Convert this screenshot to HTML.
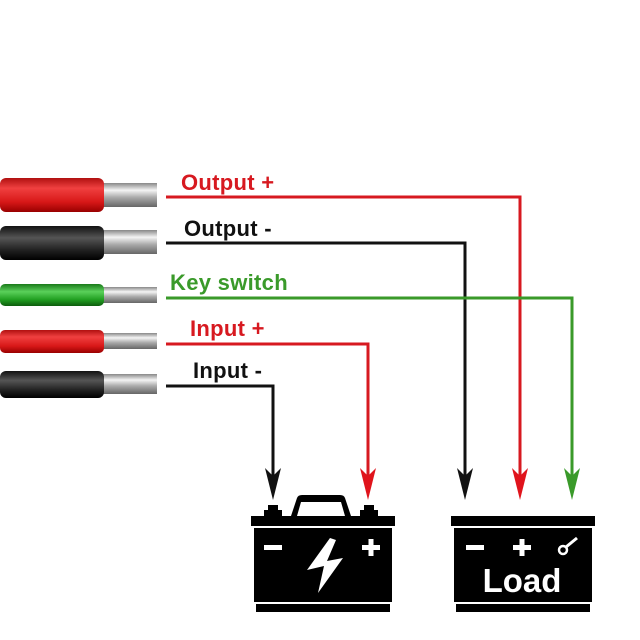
<!DOCTYPE html>
<html><head><style>
html,body{margin:0;padding:0;background:#fff;width:640px;height:640px;overflow:hidden}
</style></head><body>
<svg width="640" height="640" viewBox="0 0 640 640" xmlns="http://www.w3.org/2000/svg">
<defs>
<linearGradient id="red" x1="0" y1="0" x2="0" y2="1"><stop offset="0" stop-color="#b01010"/><stop offset="0.3" stop-color="#f04040"/><stop offset="0.7" stop-color="#d81818"/><stop offset="1" stop-color="#900"/></linearGradient>
<linearGradient id="blk" x1="0" y1="0" x2="0" y2="1"><stop offset="0" stop-color="#111"/><stop offset="0.35" stop-color="#555"/><stop offset="0.7" stop-color="#222"/><stop offset="1" stop-color="#000"/></linearGradient>
<linearGradient id="grn" x1="0" y1="0" x2="0" y2="1"><stop offset="0" stop-color="#1a7a1a"/><stop offset="0.35" stop-color="#5ad05a"/><stop offset="0.7" stop-color="#22a022"/><stop offset="1" stop-color="#0d5d0d"/></linearGradient>
<linearGradient id="met" x1="0" y1="0" x2="0" y2="1"><stop offset="0" stop-color="#888"/><stop offset="0.3" stop-color="#f4f4f4"/><stop offset="0.6" stop-color="#aaa"/><stop offset="1" stop-color="#666"/></linearGradient>
</defs>
<g>
<rect x="100" y="183" width="57" height="24" fill="url(#met)"/>
<rect x="0" y="178" width="104" height="34" rx="6" fill="url(#red)"/>
<rect x="100" y="230" width="57" height="24" fill="url(#met)"/>
<rect x="0" y="226" width="104" height="34" rx="6" fill="url(#blk)"/>
<rect x="100" y="287" width="57" height="16" fill="url(#met)"/>
<rect x="0" y="284" width="104" height="22" rx="5" fill="url(#grn)"/>
<rect x="100" y="333" width="57" height="16" fill="url(#met)"/>
<rect x="0" y="330" width="104" height="23" rx="5" fill="url(#red)"/>
<rect x="100" y="374" width="57" height="20" fill="url(#met)"/>
<rect x="0" y="371" width="104" height="27" rx="6" fill="url(#blk)"/>
</g>
<g fill="none" stroke-width="3">
<polyline points="166,197 520,197 520,485" stroke="#d71920"/>
<polyline points="166,243 465,243 465,485" stroke="#111"/>
<polyline points="166,298 572,298 572,485" stroke="#3a9a2a"/>
<polyline points="166,344 368,344 368,482" stroke="#d71920"/>
<polyline points="166,386 273,386 273,482" stroke="#111"/>
</g>
<g>
<polygon points="265,468 273,500 281,468 273,476" fill="#111"/>
<polygon points="360,468 368,500 376,468 368,476" fill="#e0141c"/>
<polygon points="457,468 465,500 473,468 465,476" fill="#111"/>
<polygon points="512,468 520,500 528,468 520,476" fill="#e0141c"/>
<polygon points="564,468 572,500 580,468 572,476" fill="#3a9a2a"/>
</g>
<g font-family="Liberation Sans, sans-serif" font-weight="bold" font-size="22" letter-spacing="0.3">
<text x="181" y="190" fill="#d71920">Output +</text>
<text x="184" y="236" fill="#111">Output -</text>
<text x="170" y="290" fill="#3a9a2a">Key switch</text>
<text x="190" y="336" fill="#d71920">Input +</text>
<text x="193" y="378" fill="#111">Input -</text>
</g>
<g fill="#000">
<path d="M291,516 L297,498 Q298,495 302,495 L340,495 Q344,495 345,498 L351,516 L345,516 L341,502 L301,502 L297,516 Z"/>
<rect x="264" y="510" width="18" height="6"/><rect x="268" y="505" width="10" height="6"/>
<rect x="360" y="510" width="18" height="6"/><rect x="364" y="505" width="10" height="6"/>
<rect x="251" y="516" width="144" height="10"/>
<rect x="254" y="528" width="138" height="74"/>
<rect x="256" y="604" width="134" height="8"/>
</g>
<g fill="#fff">
<rect x="264" y="545" width="18" height="5"/>
<rect x="362" y="545" width="18" height="5"/><rect x="368.5" y="539" width="5" height="17"/>
<polygon points="330,538 307,570 324,566 318,593 343,558 327,561 336,540"/>
</g>
<g fill="#000">
<rect x="451" y="516" width="144" height="10"/>
<rect x="454" y="528" width="138" height="74"/>
<rect x="456" y="604" width="134" height="8"/>
</g>
<g fill="#fff">
<rect x="466" y="545" width="18" height="5"/>
<rect x="513" y="545" width="18" height="5"/><rect x="519.5" y="539" width="5" height="17"/>
<circle cx="563" cy="550" r="4" fill="none" stroke="#fff" stroke-width="2.5"/>
<line x1="566" y1="547" x2="577" y2="538" stroke="#fff" stroke-width="3"/>
</g>
<text x="522" y="592" text-anchor="middle" font-family="Liberation Sans, sans-serif" font-weight="bold" font-size="33" fill="#fff">Load</text>
</svg>
</body></html>
